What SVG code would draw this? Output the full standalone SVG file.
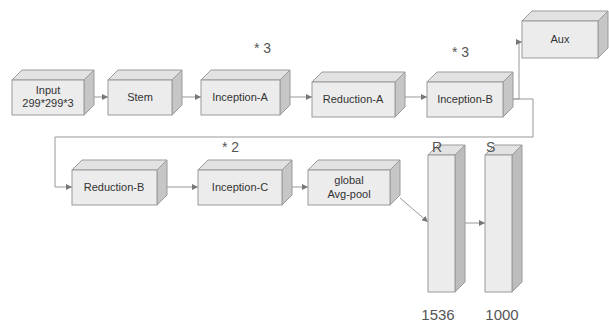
<svg xmlns="http://www.w3.org/2000/svg" width="609" height="326" viewBox="0 0 609 326">
<style>
.front{fill:#ececec;stroke:#9a9a9a;stroke-width:1}
.top{fill:#e2e2e2;stroke:#9a9a9a;stroke-width:1}
.side{fill:#c6c6c6;stroke:#9a9a9a;stroke-width:1}
.bside{fill:#bdbdbd;stroke:#9a9a9a;stroke-width:1}
.lbl{font-family:"Liberation Sans",Arial,sans-serif;font-size:11px;fill:#333;text-anchor:middle}
.note{font-family:"Liberation Sans",Arial,sans-serif;font-size:14px;fill:#555}
.num{font-family:"Liberation Sans",Arial,sans-serif;font-size:15px;fill:#555;text-anchor:middle}
.conn{fill:none;stroke:#999;stroke-width:1;marker-end:url(#ah)}
</style>
<defs>
<marker id="ah" markerWidth="6" markerHeight="6" refX="6" refY="3" orient="auto" markerUnits="userSpaceOnUse">
<path d="M0,0 L6,3 L0,6 z" fill="#777"/>
</marker>
</defs>
<rect width="609" height="326" fill="#fff"/>

<g id="connectors">
<path class="conn" d="M94,97 L108,97"/>
<path class="conn" d="M182,97 L201,97"/>
<path class="conn" d="M290,97 L312,97"/>
<path class="conn" d="M405,97 L427,97"/>
<path class="conn" d="M513,99 L519,99 L519,42 L522,42"/>
<path class="conn" d="M513,99 L533,99 L533,137 L55,137 L55,187 L72,187"/>
<path class="conn" d="M167,187 L198,187"/>
<path class="conn" d="M292,187 L308,187"/>
<path class="conn" d="M400,198 L428,222"/>
<path class="conn" d="M465,223 L485,223"/>
</g>

<g id="input">
<polygon class="top" points="12,80 22,70 94,70 84,80"/>
<polygon class="side" points="84,80 94,70 94,105 84,115"/>
<rect class="front" x="12" y="80" width="72" height="35"/>
<text class="lbl" x="48" y="94">Input</text>
<text class="lbl" x="48" y="107">299*299*3</text>
</g>

<g id="stem">
<polygon class="top" points="108,80 118,70 182,70 172,80"/>
<polygon class="side" points="172,80 182,70 182,105 172,115"/>
<rect class="front" x="108" y="80" width="64" height="35"/>
<text class="lbl" x="140" y="101">Stem</text>
</g>

<g id="inception-a">
<polygon class="top" points="201,80 211,70 290,70 280,80"/>
<polygon class="side" points="280,80 290,70 290,105 280,115"/>
<rect class="front" x="201" y="80" width="79" height="35"/>
<text class="lbl" x="240" y="101">Inception-A</text>
</g>

<g id="reduction-a">
<polygon class="top" points="312,82 322,72 405,72 395,82"/>
<polygon class="side" points="395,82 405,72 405,107 395,117"/>
<rect class="front" x="312" y="82" width="83" height="35"/>
<text class="lbl" x="353" y="103">Reduction-A</text>
</g>

<g id="inception-b">
<polygon class="top" points="427,82 437,72 513,72 503,82"/>
<polygon class="side" points="503,82 513,72 513,107 503,117"/>
<rect class="front" x="427" y="82" width="76" height="35"/>
<text class="lbl" x="465" y="103">Inception-B</text>
</g>

<g id="aux">
<polygon class="top" points="522,21 532,11 608,11 598,21"/>
<polygon class="side" points="598,21 608,11 608,48 598,58"/>
<rect class="front" x="522" y="21" width="76" height="37"/>
<text class="lbl" x="560" y="43">Aux</text>
</g>

<g id="reduction-b">
<polygon class="top" points="72,170 82,160 167,160 157,170"/>
<polygon class="side" points="157,170 167,160 167,195 157,205"/>
<rect class="front" x="72" y="170" width="85" height="35"/>
<text class="lbl" x="114" y="191">Reduction-B</text>
</g>

<g id="inception-c">
<polygon class="top" points="198,170 208,160 292,160 282,170"/>
<polygon class="side" points="282,170 292,160 292,195 282,205"/>
<rect class="front" x="198" y="170" width="84" height="35"/>
<text class="lbl" x="240" y="191">Inception-C</text>
</g>

<g id="avgpool">
<polygon class="top" points="308,170 318,160 400,160 390,170"/>
<polygon class="side" points="390,170 400,160 400,195 390,205"/>
<rect class="front" x="308" y="170" width="82" height="35"/>
<text class="lbl" x="349" y="184">global</text>
<text class="lbl" x="349" y="198">Avg-pool</text>
</g>

<g id="bar-r">
<polygon class="top" points="428,155 438,145 465,145 455,155"/>
<polygon class="bside" points="455,155 465,145 465,282 455,292"/>
<rect class="front" x="428" y="155" width="27" height="137"/>
</g>

<g id="bar-s">
<polygon class="top" points="485,155 495,145 522,145 512,155"/>
<polygon class="bside" points="512,155 522,145 522,282 512,292"/>
<rect class="front" x="485" y="155" width="27" height="137"/>
</g>

<g id="labels">
<text class="note" x="254" y="53">* 3</text>
<text class="note" x="452" y="57">* 3</text>
<text class="note" x="222" y="152">* 2</text>
<text class="note" x="432" y="152">R</text>
<text class="note" x="486" y="152">S</text>
<text class="num" x="438" y="320">1536</text>
<text class="num" x="502" y="320">1000</text>
</g>
</svg>
